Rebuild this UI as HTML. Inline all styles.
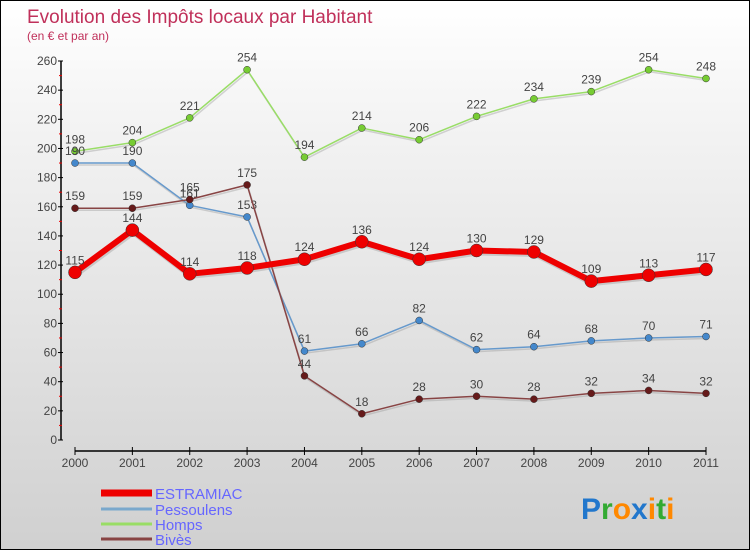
<!DOCTYPE html>
<html><head><meta charset="utf-8"><style>
body{margin:0;width:750px;height:550px;overflow:hidden;font-family:"Liberation Sans",sans-serif}
#wrap{position:relative;width:748px;height:548px;border:1px solid #000;background:linear-gradient(#fff,#f2f2f2 25%,#d0d0d0)}
</style></head><body>
<div id="wrap">
<svg id="chart" width="748" height="548" style="position:absolute;left:0;top:0"></svg>
</div>
<script>
const years=["2000","2001","2002","2003","2004","2005","2006","2007","2008","2009","2010","2011"];
const estramiac=[115,144,114,118,124,136,124,130,129,109,113,117];
const pessoulens=[190,190,161,153,61,66,82,62,64,68,70,71];
const homps=[198,204,221,254,194,214,206,222,234,239,254,248];
const bives=[159,159,165,175,44,18,28,30,28,32,34,32];
const yTicks=[0,20,40,60,80,100,120,140,160,180,200,220,240,260];
const NS="http://www.w3.org/2000/svg";
const svg=document.getElementById('chart');
function X(i){return 74+i*(631/11);}
function Y(v){return 439-v*(379/260);}
function mk(t,a,p){const e=document.createElementNS(NS,t);for(const k in a)e.setAttribute(k,a[k]);(p||svg).appendChild(e);return e;}
function txt(s,x,y,a,p){const e=mk('text',a,p);e.setAttribute('x',x);e.setAttribute('y',y);e.textContent=s;return e;}
// title
let t=txt('Evolution des Impôts locaux par Habitant',26,22,{fill:'#c0305a','font-size':19});

t=txt('(en € et par an)',26,39,{fill:'#c0305a','font-size':12});

// y axis
const ya=mk('g',{});
mk('line',{x1:60,y1:Y(260),x2:60,y2:Y(0),stroke:'#000','stroke-width':1.5},ya);
yTicks.forEach(v=>{
 mk('line',{x1:57,y1:Y(v),x2:62,y2:Y(v),stroke:'#000'},ya);
 if(v<260)mk('line',{x1:58,y1:Y(v+10),x2:61,y2:Y(v+10),stroke:'#e00'},ya);
 const l=txt(String(v),56,Y(v)+4,{'text-anchor':'end','font-size':12,fill:'#444'},ya);
 
});
// x axis
const xa=mk('g',{});
mk('line',{x1:X(0),y1:450,x2:X(11),y2:450,stroke:'#000','stroke-width':1.5},xa);
years.forEach((y,i)=>{
 mk('line',{x1:X(i),y1:446,x2:X(i),y2:454,stroke:'#000'},xa);
 const l=txt(y,X(i),466,{'text-anchor':'middle','font-size':12,fill:'#444'},xa);
 
});
function series(data,name,color,w,r,dot){
 const g=mk('g',{});
 const pts=data.map((v,i)=>X(i)+','+Y(v)).join(' ');
 mk('polyline',{points:pts,fill:'none',stroke:'#999','stroke-opacity':0.4,'stroke-width':w,transform:'translate(1,2)'},g);
 mk('polyline',{points:pts,fill:'none',stroke:color,'stroke-width':w,'stroke-linejoin':'round'},g);
 data.forEach((v,i)=>{
  const c=mk('circle',{cx:X(i),cy:Y(v),r:r,fill:dot,stroke:'#333','stroke-width':0.5},g);
  
  const l=txt(String(v),X(i),Y(v)-8,{'text-anchor':'middle','font-size':12,fill:'#444'},g);
  
 });
}
series(homps,'homps','#99dd66',1.5,3.5,'#77cc33');
series(pessoulens,'pessoulens','#6699cc',1.5,3.5,'#4488cc');
series(bives,'bives','#884444',1.5,3.5,'#661a1a');
series(estramiac,'estramiac','#ee0000',6,6.5,'#ee0000');
// legend
const lg=mk('g',{});
[['ESTRAMIAC','#ee0000',7,492],['Pessoulens','#7aa8cc',3,508],['Homps','#99dd66',3,523],['Bivès','#884444',3,538]].forEach(([n,c,w,y])=>{
 const e=mk('g',{},lg);
 mk('line',{x1:100,y1:y,x2:151,y2:y,stroke:c,'stroke-width':w},e);
 txt(n,154,y+6,{'font-size':15,fill:'#6666ff'},e);
});
// logo
const lo=txt('',580,518,{'font-size':30,'font-family':'"Liberation Sans",sans-serif','font-weight':'bold'});

[['P','#2277cc'],['r','#33aa33'],['o','#ff8800'],['x','#2277cc'],['i','#ff8800'],['t','#33aa33'],['i','#ff8800']].forEach(([ch,c])=>{const s=mk('tspan',{fill:c},lo);s.textContent=ch;});
</script>
</body></html>
